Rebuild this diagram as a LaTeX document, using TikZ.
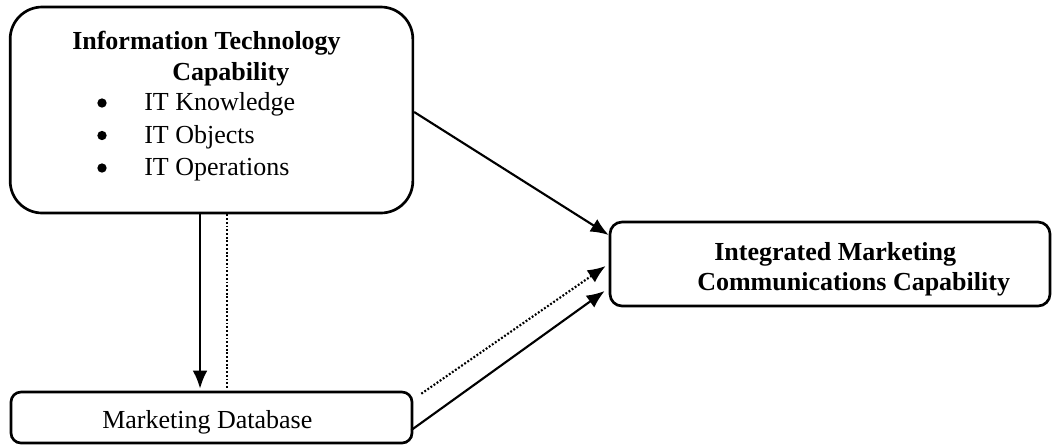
\documentclass[tikz,border=0pt]{standalone}
\usepackage{fontspec}
\setmainfont{Liberation Serif}
\usetikzlibrary{arrows.meta}

\tikzset{
	box/.style={draw, line width=2pt, inner sep=0pt},
	arr/.style={line width=1.6pt, -{Latex[length=13.5pt,width=11pt]}},
	dots/.style={line width=1.6pt, dash pattern=on 1.4pt off 1.4pt},
	txt/.style={anchor=base west, inner sep=0pt},
	bul/.style={circle, fill, inner sep=0pt, minimum size=7pt},
}

\begin{document}
\begin{tikzpicture}[x=0.75pt, y=-0.75pt, font=\fontsize{19.5}{23}\selectfont]
	\useasboundingbox (0,0) rectangle (1052,444);
	\def\shiftsolid{-8.6pt}
	\def\shiftdots{11.6pt}

	\node[box, rounded corners=24pt, minimum width=302pt, minimum height=154.5pt]
		(itcap) at (211.5,110) {};
	\node[box, rounded corners=9pt, minimum width=330pt, minimum height=63pt]
		(imc) at (830,264) {};
	\node[box, rounded corners=7.5pt, minimum width=300.75pt, minimum height=38.25pt]
		(mdb) at (211.5,417.5) {};

	\node[txt, font=\fontsize{19.5}{23}\selectfont\bfseries] (ittitle) at (72,49) {Information Technology};
	\node[txt, font=\fontsize{19.5}{23}\selectfont\bfseries] (ittitleb) at (172,80) {Capability};
	\foreach \y/\item in {110.5/IT Knowledge, 143/IT Objects, 175.5/IT Operations}{%
		\node[bul] (bul\y) at (102,\y-7.5) {};
		\node[txt] (item\y) at (144,\y) {\item};
	}

	\node[txt, font=\fontsize{19.5}{23}\selectfont\bfseries] (imctitle) at (714,260) {Integrated Marketing};
	\node[txt, font=\fontsize{19.5}{23}\selectfont\bfseries] (imctitleb) at (697,290) {Communications Capability};
	\node[txt] (mdbtitle) at (102,428) {Marketing Database};

	\draw[arr] ([yshift=-1.5pt]itcap.east) -- ([yshift=21.75pt]imc.west);
	\draw[arr] ([xshift=\shiftsolid]itcap.south) -- ([xshift=\shiftsolid, yshift=1.5pt]mdb.north);
	\draw[dots] ([xshift=\shiftdots]itcap.south) -- ([xshift=\shiftdots, yshift=2pt]mdb.north);
	\draw[dots, -{Latex[length=13.5pt,width=11pt]}]
		([xshift=6pt, yshift=-2.25pt]mdb.north east) -- ([xshift=-2.25pt, yshift=-1.5pt]imc.west);
	\draw[arr] ([xshift=-1.5pt, yshift=-9.4pt]mdb.east) -- ([xshift=-3pt, yshift=-20.25pt]imc.west);
\end{tikzpicture}
\end{document}
